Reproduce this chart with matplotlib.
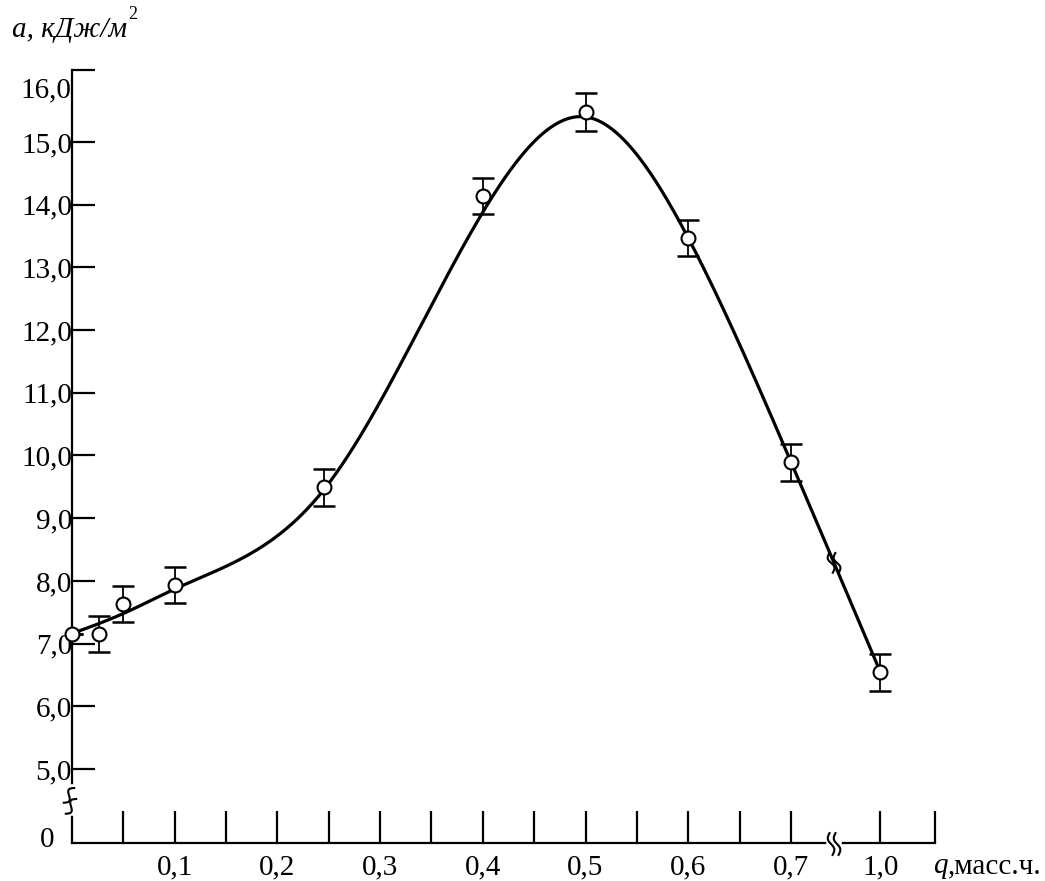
import numpy as np
import matplotlib
matplotlib.use("Agg")
import matplotlib.pyplot as plt
from matplotlib.lines import Line2D
from matplotlib.transforms import IdentityTransform

# ---- data ----
q_pos = [0.0, 0.026, 0.05, 0.1, 0.245, 0.4, 0.5, 0.6, 0.7, 0.787]   # plotted x (1.0 shown after break)
a_val = [7.16, 7.15, 7.63, 7.93, 9.49, 14.14, 15.48, 13.47, 9.89, 6.54]
a_err = [0.0, 0.29, 0.29, 0.29, 0.29, 0.29, 0.30, 0.29, 0.29, 0.29]

curve_q = [0.0, 0.05, 0.1, 0.245, 0.4, 0.5, 0.6, 0.7, 0.787]
curve_a = [7.16, 7.48, 7.87, 9.45, 13.88, 15.4, 13.47, 9.9, 6.55]

y_ticks = [5, 6, 7, 8, 9, 10, 11, 12, 13, 14, 15]
y_labels = ["5,0", "6,0", "7,0", "8,0", "9,0", "10,0", "11,0", "12,0", "13,0", "14,0", "15,0"]
x_ticks = [0.05, 0.1, 0.15, 0.2, 0.25, 0.3, 0.35, 0.4, 0.45, 0.5, 0.55, 0.6, 0.65, 0.7, 0.787]
x_labels = ["", "0,1", "", "0,2", "", "0,3", "", "0,4", "", "0,5", "", "0,6", "", "0,7", "1,0"]

W, H = 1045, 881
FONT = "Liberation Serif"
FS = 21

def natural_spline(x, y, xs):
    x = np.asarray(x, float); y = np.asarray(y, float)
    n = len(x)
    h = np.diff(x)
    A = np.zeros((n, n)); r = np.zeros(n)
    A[0, 0] = 1; A[-1, -1] = 1
    for i in range(1, n - 1):
        A[i, i - 1] = h[i - 1]
        A[i, i] = 2 * (h[i - 1] + h[i])
        A[i, i + 1] = h[i]
        r[i] = 6 * ((y[i + 1] - y[i]) / h[i] - (y[i] - y[i - 1]) / h[i - 1])
    M = np.linalg.solve(A, r)
    idx = np.clip(np.searchsorted(x, xs) - 1, 0, n - 2)
    x0, x1 = x[idx], x[idx + 1]; hh = x1 - x0
    t0 = x1 - xs; t1 = xs - x0
    return (M[idx] * t0**3 / (6 * hh) + M[idx + 1] * t1**3 / (6 * hh)
            + (y[idx] / hh - M[idx] * hh / 6) * t0 + (y[idx + 1] / hh - M[idx + 1] * hh / 6) * t1)

fig = plt.figure(figsize=(W / 100, H / 100), dpi=100)
left, right, top, bottom = 72, 935, 70, 843
ax = fig.add_axes([left / W, (H - bottom) / H, (right - left) / W, (bottom - top) / H])
ymin, ymax = 3.82, 16.148
xmax = 0.8403
ax.set_xlim(0, xmax)
ax.set_ylim(ymin, ymax)

for s in ["top", "right"]:
    ax.spines[s].set_visible(False)
for s in ["left", "bottom"]:
    ax.spines[s].set_linewidth(1.6)

ax.set_yticks(y_ticks + [ymax])
ax.set_yticklabels(y_labels + [""], fontfamily=FONT, fontsize=FS)
ax.tick_params(axis="y", direction="in", length=16.5, width=1.6, pad=0)
ax.set_xticks(x_ticks + [xmax])
ax.set_xticklabels(x_labels + [""], fontfamily=FONT, fontsize=FS)
ax.tick_params(axis="x", direction="in", length=23, width=1.6, pad=8)

# curve
qs = np.linspace(curve_q[0], curve_q[-1], 600)
ax.plot(qs, natural_spline(curve_q, curve_a, qs), color="black", lw=2.3, zorder=2, solid_capstyle="butt")

# points with error bars
ax.errorbar(q_pos, a_val, yerr=a_err, fmt="none", ecolor="black", elinewidth=1.3,
            capsize=8, capthick=1.8, zorder=3)
ax.plot(q_pos, a_val, "o", ms=10, mfc="white", mec="black", mew=1.5, zorder=4, clip_on=False)

# texts
ax.text(-0.0005, 15.82, "16,0", ha="right", va="center", fontfamily=FONT, fontsize=FS)
ax.text(-0.024, 3.87, "0", ha="center", va="center", fontfamily=FONT, fontsize=FS)
t = fig.text(12 / W, 1 - 30 / H, "a, кДж/м", fontfamily=FONT, style="italic", fontsize=FS,
             ha="left", va="center")
ax.annotate("2", xy=(1, 0.78), xycoords=t, xytext=(1, 0), textcoords="offset points",
            fontfamily=FONT, fontsize=13, ha="left", va="bottom", annotation_clip=False)
tq = fig.text(933 / W, 1 - 866 / H, "q", fontfamily=FONT, style="italic", fontsize=FS,
              ha="left", va="center")
ax.annotate(",масс.ч.", xy=(1, 0), xycoords=tq, xytext=(0.5, 0), textcoords="offset points",
            fontfamily=FONT, fontsize=FS, ha="left", va="bottom", annotation_clip=False)

# break marks (pixel geometry)
def wave(cx, cy, length, amp, angle_deg, lw=1.5):
    tt = np.linspace(-0.5, 0.5, 40)
    u = tt * length
    v = amp * np.sin(2 * np.pi * tt)
    a = np.deg2rad(angle_deg)
    xs = cx + u * np.cos(a) - v * np.sin(a)
    ys = cy + u * np.sin(a) + v * np.cos(a)
    fig.add_artist(Line2D(xs, ys, transform=IdentityTransform(), color="black", lw=lw))

def to_px(x, y):
    return ax.transData.transform((x, y))

# y-axis break between 0 and 5
px, py = to_px(0, 4.5)
fig.add_artist(Line2D([px, px], [py - 13, py + 13], transform=IdentityTransform(), color="white", lw=4))
wave(px - 3, py + 5, 18, 3.5, 55)
wave(px - 1, py - 6, 18, 3.5, 55)
# x-axis break
bx = 0.742
px, py = to_px(bx, ymin)
fig.add_artist(Line2D([px - 5, px + 5], [py, py], transform=IdentityTransform(), color="white", lw=4))
wave(px - 3, py - 1, 22, 2.5, 98)
wave(px + 3, py - 1, 22, 2.5, 98)
# curve break
cy_val = float(natural_spline(curve_q, curve_a, np.array([bx]))[0])
px, py = to_px(bx, cy_val)
wave(px - 3, py, 20, 2.5, 100)
wave(px + 3, py, 20, 2.5, 100)

fig.savefig("out.png", dpi=100)
